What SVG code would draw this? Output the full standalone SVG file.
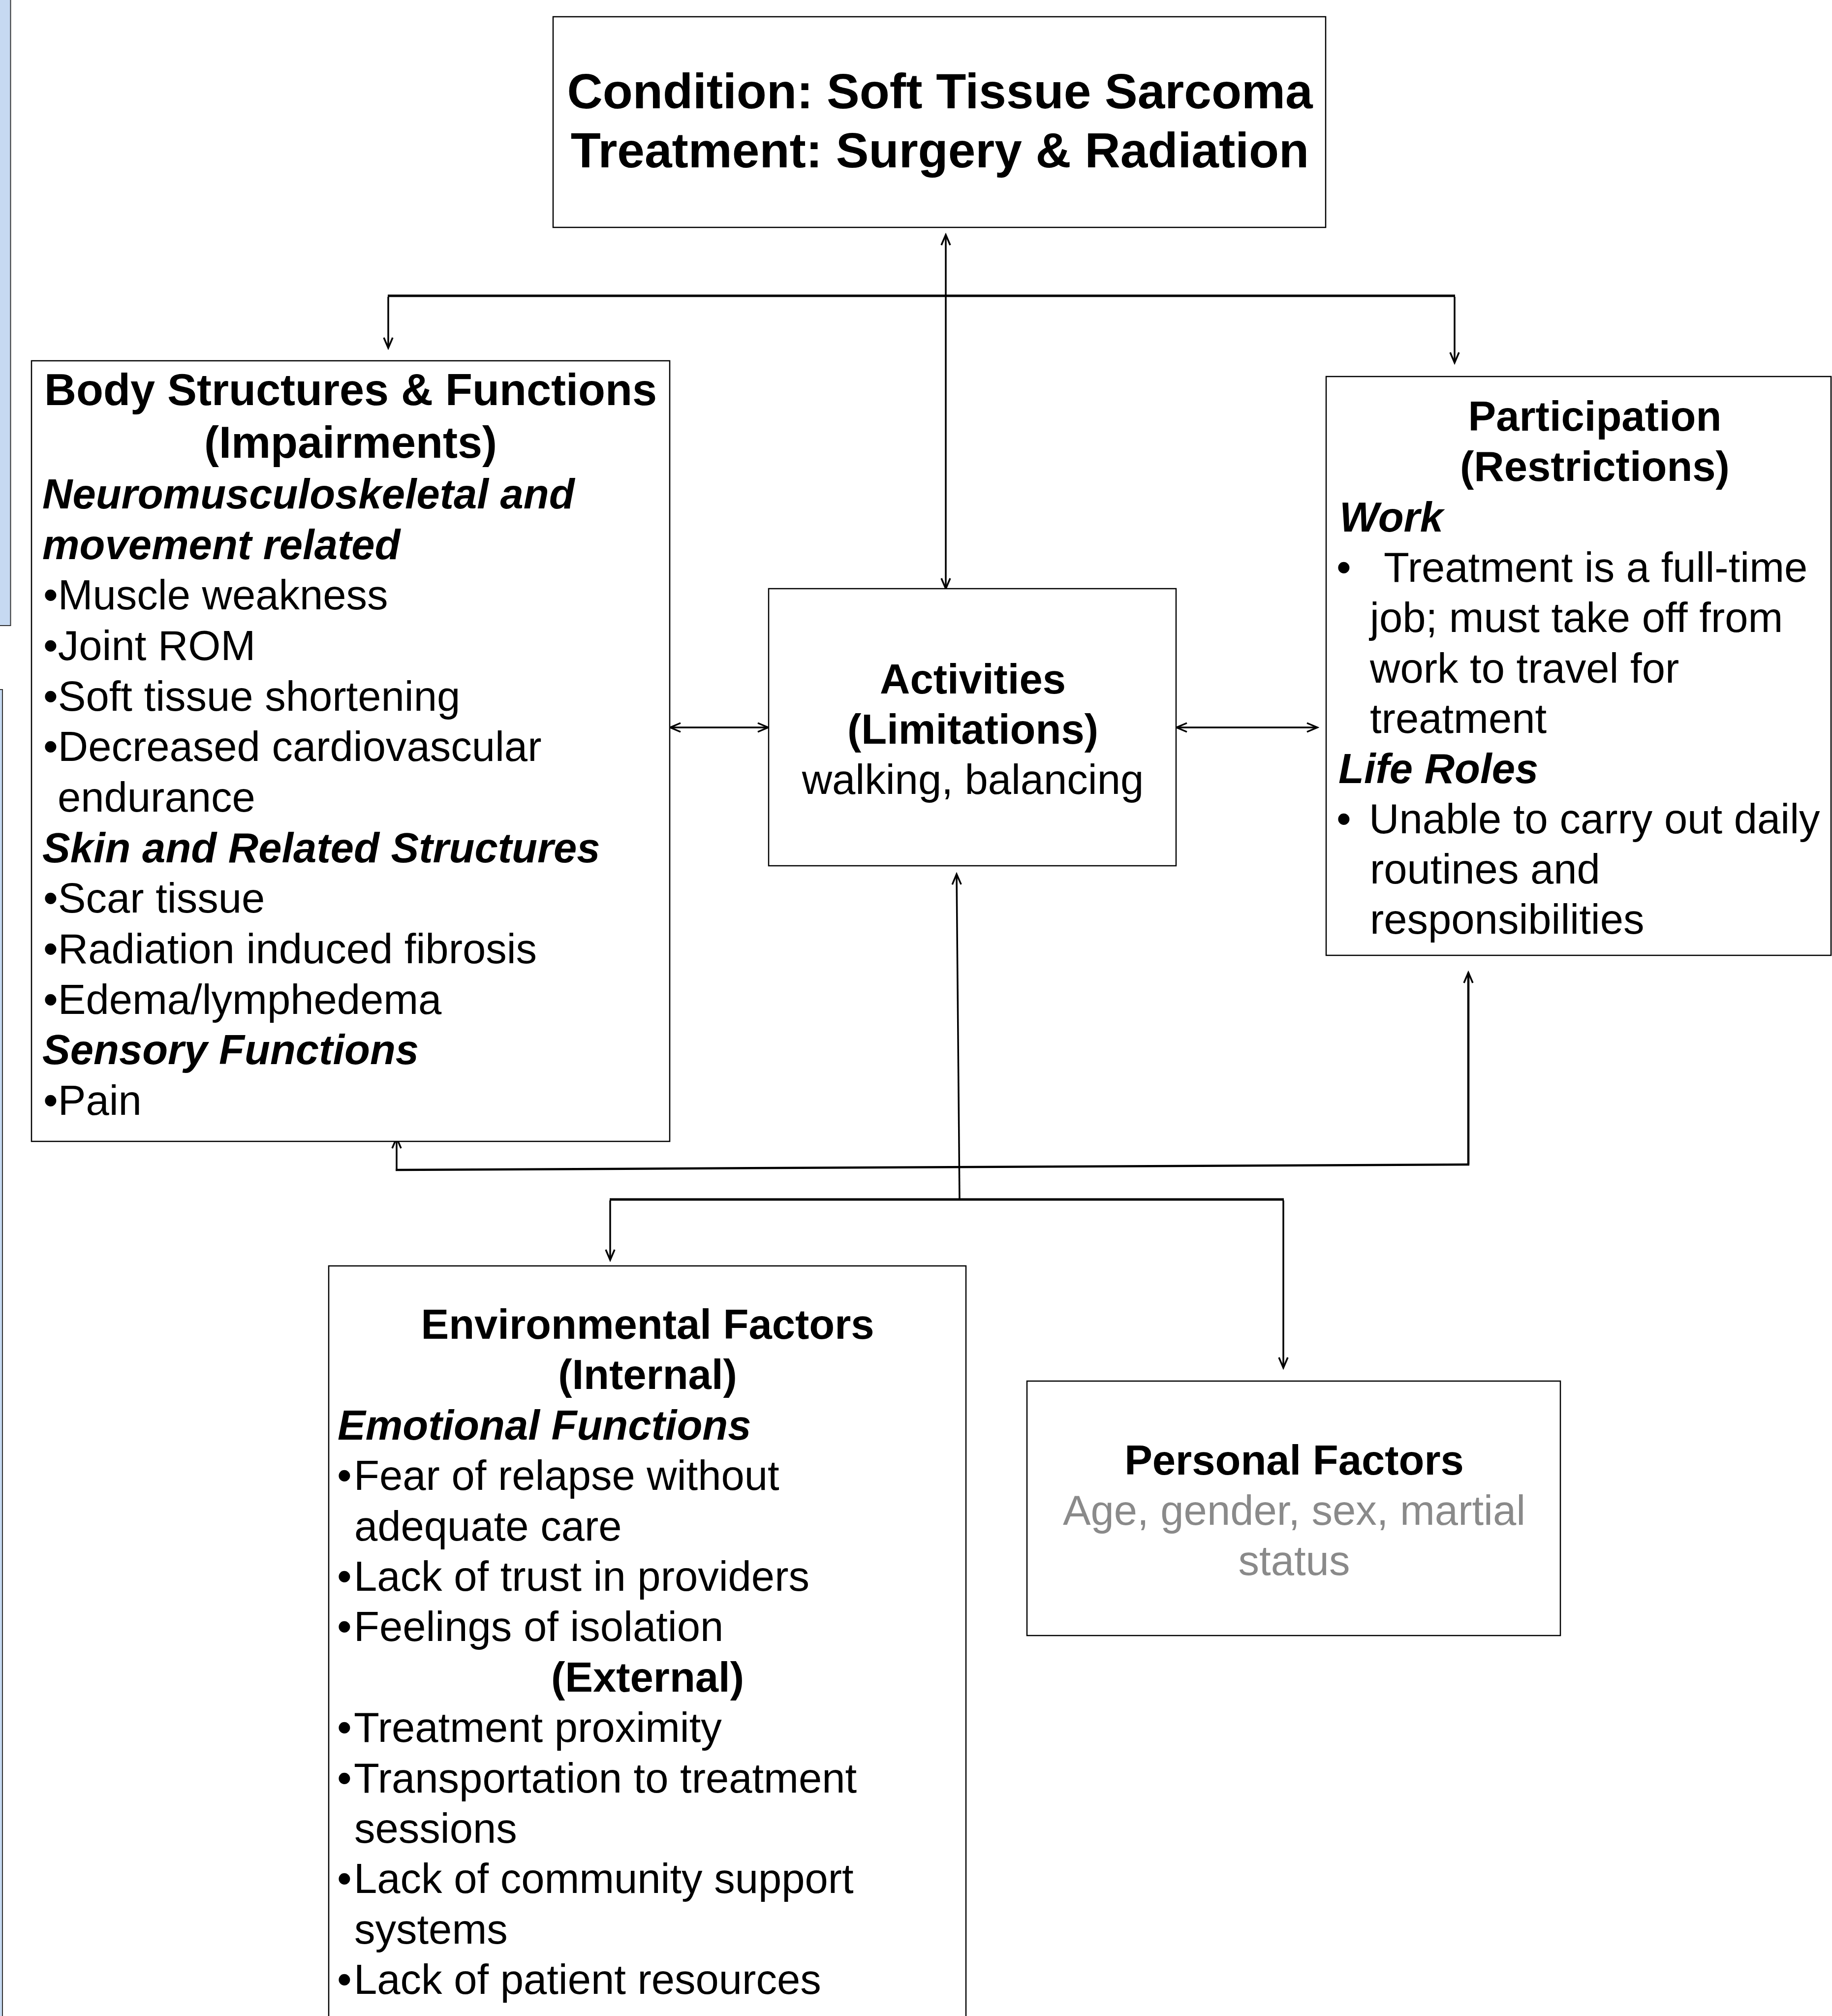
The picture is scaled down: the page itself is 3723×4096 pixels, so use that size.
<svg xmlns="http://www.w3.org/2000/svg" width="3723" height="4096" viewBox="0 0 3723 4096">
<style>
.box{fill:#fff;stroke:#000;stroke-width:2.5}
.t{font-family:"Liberation Sans",Arial,sans-serif;font-size:85px;fill:#000}
.b{font-weight:bold}
.bi{font-weight:bold;font-style:italic}
.h{font-size:90px;font-weight:bold}
.c{text-anchor:middle}
.g{fill:#8a8a8a}
.ln{fill:none;stroke:#000;stroke-width:3.5}
.thick{fill:none;stroke:#000;stroke-width:5}
</style>
<defs>
<marker id="arr" viewBox="-26 -13 30 26" refX="0" refY="0" markerWidth="30" markerHeight="26" markerUnits="userSpaceOnUse" orient="auto-start-reverse">
<path d="M-21,-9 L0,0 L-21,9" fill="none" stroke="#000" stroke-width="3.5"/>
</marker>
</defs>
<rect width="3723" height="4096" fill="#fff"/>
<g id="side-panels">
<rect x="-10" y="-10" width="31.5" height="1281" fill="#c6d9f1" stroke="#333" stroke-width="2"/>
<rect x="-10" y="1401" width="15" height="2710" fill="#c6d9f1" stroke="#333" stroke-width="2"/>
</g>
<g id="connectors">
<line class="ln" x1="1922" y1="477" x2="1922" y2="1196" marker-start="url(#arr)" marker-end="url(#arr)"/>
<line class="thick" x1="788" y1="601" x2="2957" y2="601"/>
<line class="ln" x1="789" y1="603" x2="789" y2="707" marker-end="url(#arr)"/>
<line class="ln" x1="2956" y1="603" x2="2956" y2="737" marker-end="url(#arr)"/>
<line class="ln" x1="1362" y1="1478" x2="1561" y2="1478" marker-start="url(#arr)" marker-end="url(#arr)"/>
<line class="ln" x1="2391" y1="1478" x2="2677" y2="1478" marker-start="url(#arr)" marker-end="url(#arr)"/>
<line class="ln" x1="1950" y1="2437" x2="1944" y2="1776" marker-end="url(#arr)"/>
<polyline class="ln" points="806,2377 806,2312" marker-end="url(#arr)"/>
<line class="thick" x1="804" y1="2377" x2="2986" y2="2366" style="stroke-width:4.5"/>
<polyline class="ln" points="2984,2366 2984,1976" marker-end="url(#arr)" style="stroke-width:4.5"/>
<line class="thick" x1="1239" y1="2437" x2="2609" y2="2437"/>
<line class="ln" x1="1240" y1="2439" x2="1240" y2="2560" marker-end="url(#arr)"/>
<line class="ln" x1="2608" y1="2439" x2="2608" y2="2779" marker-end="url(#arr)"/>
</g>
<g id="condition">
<rect class="box" x="1124" y="34" width="1570" height="428"/>
<text class="t b c" x="1910" y="220" style="font-size:100px">Condition: Soft Tissue Sarcoma</text>
<text class="t b c" x="1910" y="340" style="font-size:100px">Treatment: Surgery &amp; Radiation</text>
</g>
<g id="body">
<rect class="box" x="64" y="733" width="1297" height="1586"/>
<text class="t h c" x="712.5" y="823">Body Structures &amp; Functions</text>
<text class="t h c" x="712.5" y="930">(Impairments)</text>
<text class="t bi" x="86" y="1033">Neuromusculoskeletal and</text>
<text class="t bi" x="86" y="1136">movement related</text>
<text class="t" x="88" y="1238">•Muscle weakness</text>
<text class="t" x="88" y="1341">•Joint ROM</text>
<text class="t" x="88" y="1444">•Soft tissue shortening</text>
<text class="t" x="88" y="1546">•Decreased cardiovascular</text>
<text class="t" x="117" y="1649">endurance</text>
<text class="t bi" x="86" y="1752">Skin and Related Structures</text>
<text class="t" x="88" y="1854">•Scar tissue</text>
<text class="t" x="88" y="1957">•Radiation induced fibrosis</text>
<text class="t" x="88" y="2060">•Edema/lymphedema</text>
<text class="t bi" x="86" y="2162">Sensory Functions</text>
<text class="t" x="88" y="2265">•Pain</text>
</g>
<g id="activities">
<rect class="box" x="1562" y="1196" width="828" height="563"/>
<text class="t b c" x="1977" y="1409">Activities</text>
<text class="t b c" x="1977" y="1511">(Limitations)</text>
<text class="t c" x="1977" y="1613">walking, balancing</text>
</g>
<g id="participation">
<rect class="box" x="2695" y="765" width="1026" height="1176"/>
<text class="t b c" x="3241" y="875">Participation</text>
<text class="t b c" x="3241" y="977">(Restrictions)</text>
<text class="t bi" x="2722" y="1080">Work</text>
<text class="t" y="1182"><tspan x="2716">•</tspan><tspan x="2812">Treatment is a full-time</tspan></text>
<text class="t" x="2784" y="1284">job; must take off from</text>
<text class="t" x="2784" y="1387">work to travel for</text>
<text class="t" x="2784" y="1489">treatment</text>
<text class="t bi" x="2720" y="1591">Life Roles</text>
<text class="t" y="1693"><tspan x="2716">•</tspan><tspan x="2782">Unable to carry out daily</tspan></text>
<text class="t" x="2784" y="1795">routines and</text>
<text class="t" x="2784" y="1897">responsibilities</text>
</g>
<g id="environmental">
<rect class="box" x="668" y="2572" width="1295" height="1560"/>
<text class="t b c" x="1316" y="2720">Environmental Factors</text>
<text class="t b c" x="1316" y="2822">(Internal)</text>
<text class="t bi" x="686" y="2925">Emotional Functions</text>
<text class="t" y="3027"><tspan x="685">•</tspan><tspan x="719">Fear of relapse without</tspan></text>
<text class="t" x="720" y="3130">adequate care</text>
<text class="t" y="3232"><tspan x="685">•</tspan><tspan x="719">Lack of trust in providers</tspan></text>
<text class="t" y="3334"><tspan x="685">•</tspan><tspan x="719">Feelings of isolation</tspan></text>
<text class="t b c" x="1316" y="3437">(External)</text>
<text class="t" y="3539"><tspan x="685">•</tspan><tspan x="719">Treatment proximity</tspan></text>
<text class="t" y="3642"><tspan x="685">•</tspan><tspan x="719">Transportation to treatment</tspan></text>
<text class="t" x="720" y="3744">sessions</text>
<text class="t" y="3846"><tspan x="685">•</tspan><tspan x="719">Lack of community support</tspan></text>
<text class="t" x="720" y="3949">systems</text>
<text class="t" y="4051"><tspan x="685">•</tspan><tspan x="719">Lack of patient resources</tspan></text>
</g>
<g id="personal">
<rect class="box" x="2087" y="2806" width="1084" height="517"/>
<text class="t b c" x="2630" y="2996">Personal Factors</text>
<text class="t g c" x="2630" y="3098">Age, gender, sex, martial</text>
<text class="t g c" x="2630" y="3200">status</text>
</g>
</svg>
